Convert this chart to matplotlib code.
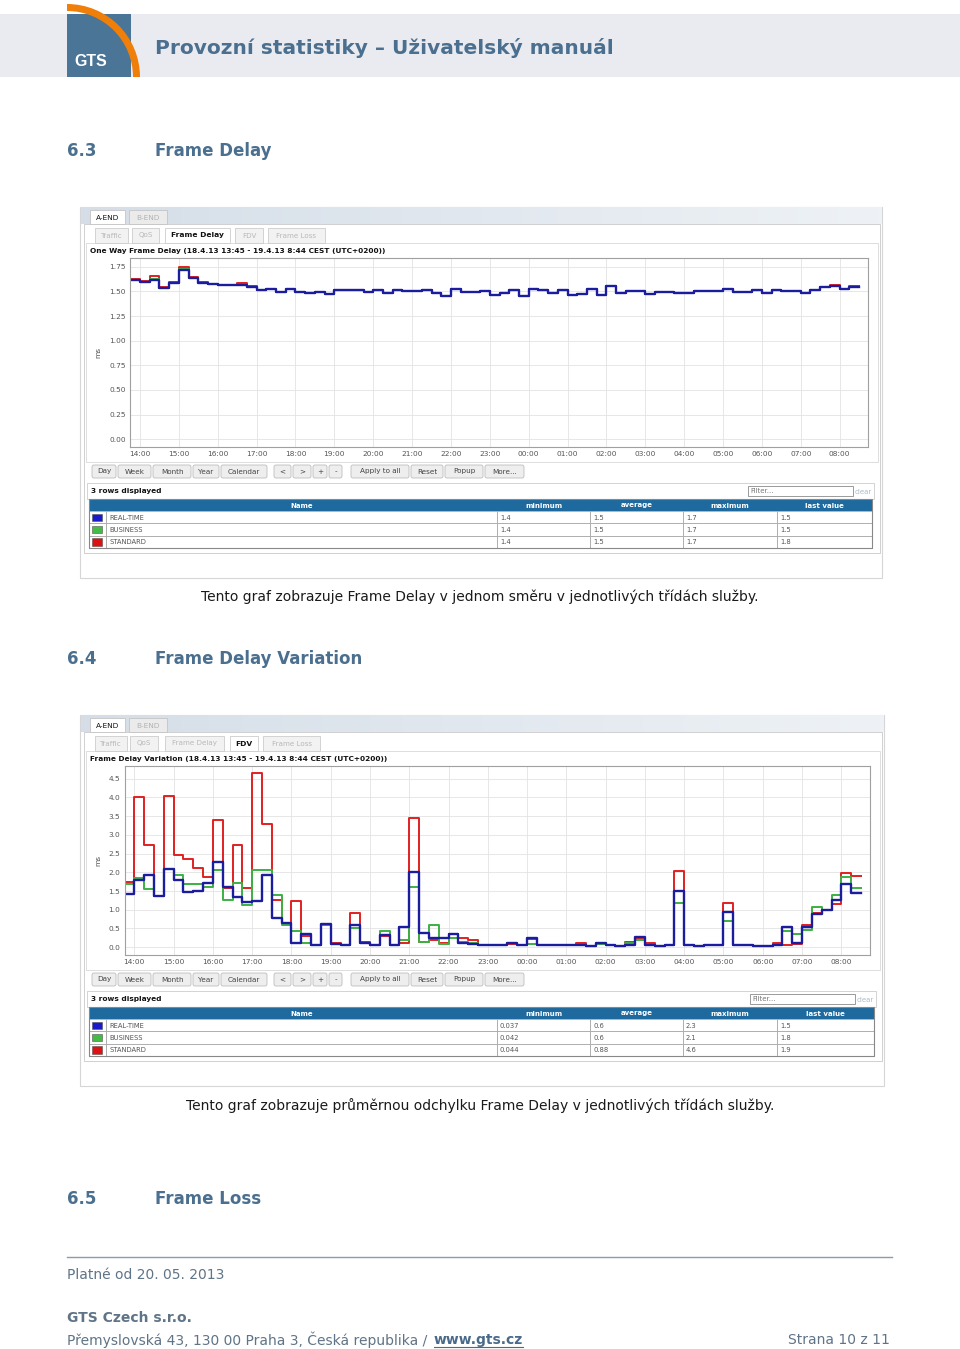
import numpy as np
import matplotlib
matplotlib.use("Agg")
import matplotlib.pyplot as plt
from matplotlib.patches import Rectangle, Wedge, FancyBboxPatch
from matplotlib.colors import LinearSegmentedColormap

# ---------------- data ----------------
hour_labels = ['14:00', '15:00', '16:00', '17:00', '18:00', '19:00', '20:00',
               '21:00', '22:00', '23:00', '00:00', '01:00', '02:00', '03:00',
               '04:00', '05:00', '06:00', '07:00', '08:00']
first_step_h = -0.25      # 13:45 relative to 14:00
step_h = 0.25             # 15-minute samples

fd_realtime = [1.62, 1.60, 1.62, 1.54, 1.59, 1.72, 1.64, 1.59, 1.58, 1.57, 1.57, 1.57, 1.55,
               1.52, 1.53, 1.49, 1.53, 1.49, 1.48, 1.49, 1.47, 1.51, 1.51, 1.51, 1.49, 1.52,
               1.48, 1.52, 1.50, 1.50, 1.51, 1.48, 1.45, 1.53, 1.49, 1.49,
               1.50, 1.46, 1.48, 1.52, 1.45, 1.53, 1.51, 1.48, 1.51, 1.46, 1.47, 1.53, 1.46,
               1.56, 1.48, 1.50, 1.50, 1.47, 1.49, 1.49, 1.48, 1.48, 1.50, 1.50, 1.50, 1.53,
               1.49, 1.49, 1.52, 1.48, 1.51, 1.50, 1.50, 1.48, 1.52, 1.55, 1.56, 1.53, 1.55]
fd_business = [1.62, 1.60, 1.63, 1.54, 1.59, 1.73, 1.64, 1.59, 1.58, 1.57, 1.57, 1.57, 1.55,
               1.52, 1.53, 1.49, 1.53, 1.49, 1.48, 1.49, 1.47, 1.51, 1.51, 1.51, 1.49, 1.52,
               1.48, 1.52, 1.50, 1.50, 1.51, 1.48, 1.45, 1.53, 1.49, 1.49,
               1.50, 1.46, 1.48, 1.52, 1.45, 1.53, 1.51, 1.48, 1.51, 1.46, 1.47, 1.53, 1.46,
               1.56, 1.48, 1.50, 1.50, 1.47, 1.49, 1.49, 1.48, 1.48, 1.50, 1.50, 1.50, 1.53,
               1.49, 1.49, 1.52, 1.48, 1.51, 1.50, 1.50, 1.48, 1.52, 1.55, 1.56, 1.53, 1.55]
fd_standard = [1.63, 1.61, 1.66, 1.55, 1.60, 1.75, 1.65, 1.60, 1.58, 1.57, 1.57, 1.59, 1.56,
               1.52, 1.53, 1.49, 1.53, 1.49, 1.48, 1.49, 1.47, 1.51, 1.51, 1.51, 1.49, 1.52,
               1.48, 1.52, 1.50, 1.50, 1.51, 1.48, 1.45, 1.53, 1.49, 1.49,
               1.50, 1.46, 1.48, 1.52, 1.45, 1.53, 1.51, 1.48, 1.51, 1.46, 1.47, 1.53, 1.46,
               1.56, 1.48, 1.50, 1.50, 1.47, 1.49, 1.49, 1.48, 1.48, 1.50, 1.50, 1.50, 1.53,
               1.49, 1.49, 1.52, 1.48, 1.51, 1.50, 1.50, 1.48, 1.52, 1.55, 1.57, 1.53, 1.56]

fdv_realtime = [1.42, 1.80, 1.93, 1.37, 2.10, 1.80, 1.47, 1.49, 1.72, 2.27, 1.62, 1.33, 1.20,
                1.23, 1.93, 0.78, 0.65, 0.10, 0.36, 0.05, 0.62, 0.08, 0.05, 0.60, 0.12, 0.05,
                0.32, 0.05, 0.53, 2.00, 0.38, 0.25, 0.25, 0.35, 0.12, 0.08,
                0.05, 0.05, 0.05, 0.12, 0.05, 0.24, 0.05, 0.05, 0.05, 0.05, 0.05, 0.03, 0.12,
                0.05, 0.03, 0.05, 0.28, 0.05, 0.03, 0.05, 1.50, 0.05, 0.04, 0.05, 0.05, 0.94,
                0.05, 0.05, 0.04, 0.04, 0.05, 0.55, 0.12, 0.55, 0.88, 1.00, 1.27, 1.68, 1.45]
fdv_business = [1.70, 1.85, 1.55, 1.37, 2.08, 1.92, 1.70, 1.70, 1.60, 2.05, 1.25, 1.72, 1.12,
                2.05, 2.05, 1.38, 0.58, 0.42, 0.12, 0.05, 0.58, 0.08, 0.05, 0.50, 0.10, 0.05,
                0.42, 0.05, 0.18, 1.60, 0.15, 0.58, 0.08, 0.25, 0.15, 0.12,
                0.05, 0.05, 0.05, 0.12, 0.05, 0.08, 0.05, 0.05, 0.05, 0.05, 0.05, 0.03, 0.08,
                0.05, 0.03, 0.10, 0.20, 0.05, 0.03, 0.05, 1.18, 0.05, 0.04, 0.05, 0.05, 0.69,
                0.05, 0.05, 0.04, 0.04, 0.05, 0.42, 0.35, 0.47, 1.07, 1.00, 1.38, 1.87, 1.58]
fdv_standard = [1.75, 4.00, 2.72, 1.37, 4.03, 2.45, 2.35, 2.12, 1.87, 3.40, 1.57, 2.72, 1.57,
                4.65, 3.28, 1.25, 0.65, 1.22, 0.30, 0.05, 0.60, 0.12, 0.05, 0.92, 0.15, 0.05,
                0.30, 0.05, 0.10, 3.45, 0.15, 0.20, 0.10, 0.35, 0.25, 0.18,
                0.05, 0.05, 0.05, 0.08, 0.05, 0.22, 0.05, 0.05, 0.05, 0.05, 0.12, 0.03, 0.08,
                0.05, 0.03, 0.13, 0.22, 0.10, 0.03, 0.05, 2.03, 0.05, 0.04, 0.05, 0.05, 1.19,
                0.05, 0.05, 0.04, 0.04, 0.10, 0.05, 0.08, 0.60, 0.90, 1.00, 1.16, 1.98, 1.89]

fd_yticks = [0.0, 0.25, 0.5, 0.75, 1.0, 1.25, 1.5, 1.75]
fdv_yticks = [0.0, 0.5, 1.0, 1.5, 2.0, 2.5, 3.0, 3.5, 4.0, 4.5]

class_names = ['REAL-TIME', 'BUSINESS', 'STANDARD']
table_cols = ['Name', 'minimum', 'average', 'maximum', 'last value']
fd_stats = [['1.4', '1.5', '1.7', '1.5'],
            ['1.4', '1.5', '1.7', '1.5'],
            ['1.4', '1.5', '1.7', '1.8']]
fdv_stats = [['0.037', '0.6', '2.3', '1.5'],
             ['0.042', '0.6', '2.1', '1.8'],
             ['0.044', '0.88', '4.6', '1.9']]

main_tabs = ['A-END', 'B-END']
sub_tabs = ['Traffic', 'QoS', 'Frame Delay', 'FDV', 'Frame Loss']
buttons = ['Day', 'Week', 'Month', 'Year', 'Calendar', '<', '>', '+', '-',
           'Apply to all', 'Reset', 'Popup', 'More...']

# ---------------- styles ----------------
DOC = ['DejaVu Sans']
UI = ['DejaVu Sans']
BLUE_TXT = '#4b6f8f'
FOOT = '#5f7487'
LINE_COL = {'REAL-TIME': '#1c1c9e', 'BUSINESS': '#3cb043', 'STANDARD': '#e02020'}
SWATCH = {'REAL-TIME': '#1a1acc', 'BUSINESS': '#44bb44', 'STANDARD': '#dd1111'}

fig = plt.figure(figsize=(9.6, 13.49), dpi=100)
fig.patch.set_facecolor('white')
bg = fig.add_axes([0, 0, 1, 1], zorder=0)
bg.set_xlim(0, 960)
bg.set_ylim(1349, 0)
bg.axis('off')


def rect(x0, y0, x1, y1, fc='none', ec='none', lw=0.8, z=1):
    bg.add_patch(Rectangle((x0, y0), x1 - x0, y1 - y0, facecolor=fc,
                           edgecolor=ec, linewidth=lw, zorder=z))


def txt(x, y, s, size, color='black', weight='normal', ha='left', fam=DOC, **kw):
    return bg.text(x, y, s, fontsize=size, color=color, fontweight=weight,
                   ha=ha, va='center', family=fam, zorder=5, **kw)


# ---------------- page header ----------------
rect(0, 14, 960, 77, fc='#e9ebf1')
rect(67, 14, 131, 77, fc='#4a7597', z=2)
bg.add_patch(Wedge((67, 77), 73, 270, 360, width=7, facecolor='#f07f0a',
                   edgecolor='none', zorder=3))
txt(74, 61, 'GTS', 11.5, color='white', weight='bold', fam=['Liberation Sans'])
txt(155, 48, 'Provozní statistiky – Uživatelský manuál', 14.5,
    color=BLUE_TXT, weight='bold')

# ---------------- headings & captions ----------------
for yy, num, name in [(151, '6.3', 'Frame Delay'), (659, '6.4', 'Frame Delay Variation'),
                      (1199, '6.5', 'Frame Loss')]:
    txt(67, yy, num, 12, color=BLUE_TXT, weight='bold')
    txt(155, yy, name, 12, color=BLUE_TXT, weight='bold')

txt(480, 597, 'Tento graf zobrazuje Frame Delay v jednom směru v jednotlivých třídách služby.',
    10, color='#1a1a1a', ha='center')
txt(480, 1106, 'Tento graf zobrazuje průměrnou odchylku Frame Delay v jednotlivých třídách služby.',
    10, color='#1a1a1a', ha='center')

# ---------------- screenshot panels ----------------
grad_cmap = LinearSegmentedColormap.from_list('band', ['#d5dee8', '#eef2f6'])


def panel(y0, xr, active, title, stats, sub_x, plot_box, series, yticks, ylim, yfmt):
    rect(80, y0, xr, y0 + 371, fc='white', ec='#d6d6d6', lw=0.8)
    bg.imshow(np.linspace(0, 1, 200).reshape(1, -1), extent=(80.5, xr - 0.5, y0 + 17, y0 + 0.5),
              aspect='auto', cmap=grad_cmap, zorder=1.5)
    # main tabs
    for (a, b), name in zip([(90, 125), (129, 167)], main_tabs):
        on = name == 'A-END'
        rect(a, y0 + 3, b, y0 + 17, fc='white' if on else '#ebebeb', ec='#c4c4c4', lw=0.6, z=2)
        txt((a + b) / 2, y0 + 10.5, name, 5.3, color='#111' if on else '#b3b3b3', ha='center', fam=UI)
    # inner box
    rect(84, y0 + 17, xr - 2, y0 + 346, fc='white', ec='#d0d0d0', lw=0.7, z=1.6)
    for (a, b), name in zip(sub_x, sub_tabs):
        on = name == active
        rect(a, y0 + 21, b, y0 + 36, fc='white' if on else '#f2f2f2', ec='#cccccc', lw=0.6, z=2)
        txt((a + b) / 2, y0 + 28.5, name, 5.4 if on else 5.1,
            color='#111' if on else '#b8b8b8', weight='bold' if on else 'normal',
            ha='center', fam=UI)
    rect(86, y0 + 36, xr - 4, y0 + 255, fc='white', ec='#d8d8d8', lw=0.6, z=1.7)
    txt(90, y0 + 44.5, title, 5.3, color='#111', weight='bold', fam=UI)
    # buttons
    bx = [(92, 116), (118, 151), (153, 191), (193, 219), (221, 267), (274, 291), (293, 311),
          (313, 327), (329, 342), (351, 409), (411, 443), (445, 483), (485, 524)]
    for (a, b), lab in zip(bx, buttons):
        bg.add_patch(FancyBboxPatch((a, y0 + 258), b - a, 13,
                                    boxstyle='round,pad=0,rounding_size=2',
                                    facecolor='#eeeeee', edgecolor='#bdbdbd', lw=0.6, zorder=2))
        txt((a + b) / 2, y0 + 264.5, lab, 5.2, color='#444', ha='center', fam=UI)
    # rows-displayed bar
    tr = xr - 10
    rect(87, y0 + 276, tr + 2, y0 + 292, fc='white', ec='#cccccc', lw=0.6, z=2)
    txt(91, y0 + 284.5, '3 rows displayed', 5.3, color='#111', weight='bold', fam=UI)
    rect(tr - 124, y0 + 279, tr - 19, y0 + 289, fc='white', ec='#8a8a8a', lw=0.6, z=3)
    txt(tr - 122, y0 + 284, 'Filter...', 5.0, color='#777', fam=UI)
    txt(tr - 17, y0 + 284.5, 'clear', 5.0, color='#a9bccb', fam=UI)
    # table
    cols = [89, 106, 497, 590, 683, 777, tr]
    rect(89, y0 + 292, tr, y0 + 304, fc='#1e6a9f', z=2)
    for i, lab in enumerate(table_cols):
        txt((cols[i + 1] + cols[i + 2]) / 2, y0 + 298.5, lab, 5.0, color='white',
            weight='bold', ha='center', fam=UI)
    for r, (name, vals) in enumerate(zip(class_names, stats)):
        ya = y0 + 304 + r * 12.3
        for c in range(6):
            rect(cols[c], ya, cols[c + 1], ya + 12.3, fc='white', ec='#a8a8a8', lw=0.6, z=2)
        rect(92, ya + 2.5, 102, ya + 10, fc=SWATCH[name], ec='#555', lw=0.4, z=3)
        txt(109, ya + 6.5, name, 4.9, color='#555', fam=UI)
        for c, v in enumerate(vals):
            txt(cols[c + 2] + 3, ya + 6.5, v, 4.9, color='#555', fam=UI)
    rect(89, y0 + 292, tr, y0 + 304 + 3 * 12.3, ec='#888', lw=0.8, z=4)

    # chart
    L, T, R, B = plot_box
    ax = fig.add_axes([L / 960, 1 - B / 1349, (R - L) / 960, (B - T) / 1349], zorder=2)
    xs = first_step_h + step_h * np.arange(len(series[0][1]) + 1)
    for name, vals in series:
        ax.step(xs, list(vals) + [vals[-1]], where='post', color=LINE_COL[name],
                lw=1.7 if name == 'REAL-TIME' else 1.4)
    ax.set_xlim(-0.25, 18.73)
    ax.set_ylim(*ylim)
    ax.set_xticks(range(len(hour_labels)))
    ax.set_xticklabels(hour_labels)
    ax.set_yticks(yticks)
    ax.set_yticklabels([yfmt.format(v) for v in yticks])
    ax.grid(True, color='#e3e3e3', lw=0.6)
    ax.set_axisbelow(True)
    ax.tick_params(length=0, labelsize=5.3, labelcolor='#555', pad=3)
    for lab in ax.get_xticklabels() + ax.get_yticklabels():
        lab.set_family(UI)
    for sp in ax.spines.values():
        sp.set_color('#a0a0a0')
        sp.set_linewidth(0.8)
    ax.set_ylabel('ms', fontsize=5.3, color='#555', family=UI)
    ax.yaxis.set_label_coords((101 - L) / (R - L), 0.5)
    return ax


panel(207, 882, 'Frame Delay',
      'One Way Frame Delay (18.4.13 13:45 - 19.4.13 8:44 CEST (UTC+0200))', fd_stats,
      [(95, 128), (132, 159), (165, 230), (235, 263), (268, 325)],
      (130.3, 258, 868, 447),
      [('STANDARD', fd_standard), ('BUSINESS', fd_business), ('REAL-TIME', fd_realtime)],
      fd_yticks, (-0.08, 1.84), '{:.2f}')

panel(715, 884, 'FDV',
      'Frame Delay Variation (18.4.13 13:45 - 19.4.13 8:44 CEST (UTC+0200))', fdv_stats,
      [(95, 127), (130, 158), (165, 224), (230, 258), (263, 320)],
      (124.5, 766, 870, 955),
      [('STANDARD', fdv_standard), ('BUSINESS', fdv_business), ('REAL-TIME', fdv_realtime)],
      fdv_yticks, (-0.21, 4.84), '{:.1f}')

bg.set_xlim(0, 960)
bg.set_ylim(1349, 0)

# ---------------- footer ----------------
bg.plot([67, 892], [1257, 1257], color='#8c9cab', lw=1.0, zorder=2)
txt(67, 1275, 'Platné od 20. 05. 2013', 10, color=FOOT)
txt(67, 1318, 'GTS Czech s.r.o.', 10, color=FOOT, weight='bold')
addr = txt(67, 1340, 'Přemyslovská 43, 130 00 Praha 3, Česká republika / ', 10, color=FOOT)
txt(890, 1340, 'Strana 10 z 11', 10, color=FOOT, ha='right')
renderer = fig.canvas.get_renderer()
ext = addr.get_window_extent(renderer)
x_end = bg.transData.inverted().transform((ext.x1, ext.y0))[0]
url = txt(x_end + 2, 1340, 'www.gts.cz', 10, color='#4a6a8a', weight='bold')
uext = url.get_window_extent(renderer)
ux1 = bg.transData.inverted().transform((uext.x1, uext.y0))[0]
bg.plot([x_end + 2, ux1], [1347, 1347], color='#4a6a8a', lw=0.8, zorder=2)

fig.savefig('out.png', dpi=100, facecolor='white')
